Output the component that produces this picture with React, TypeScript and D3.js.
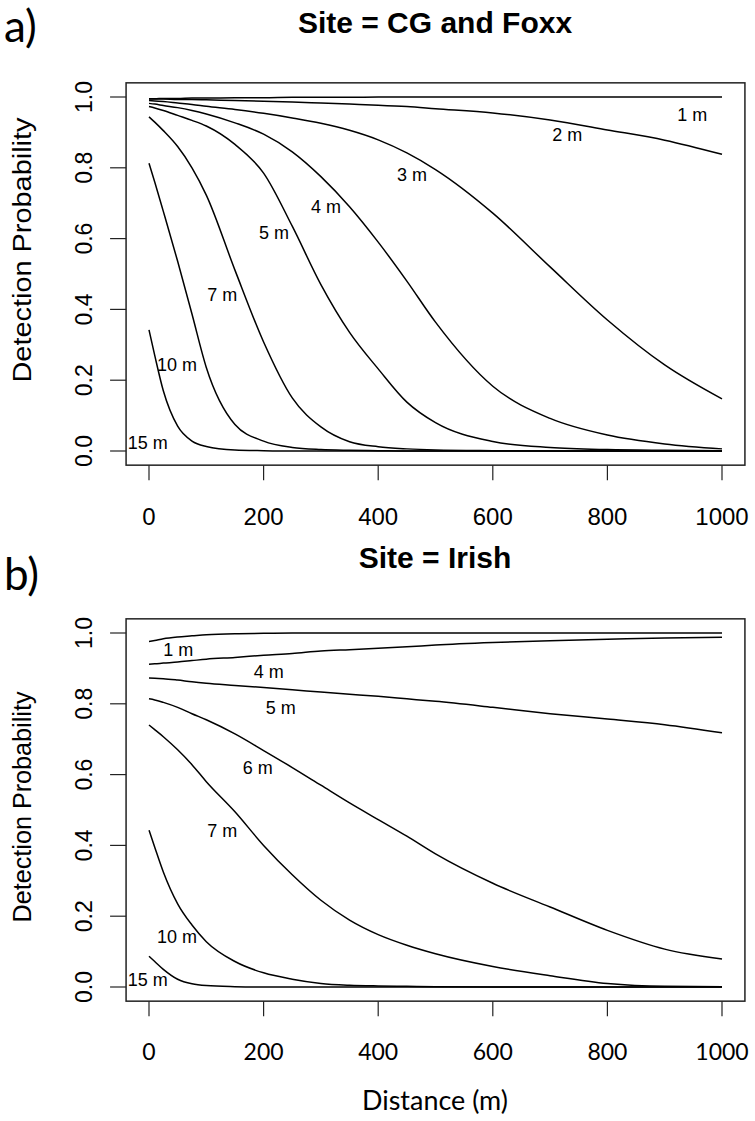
import React from 'react';
import * as d3 from 'd3';

// distance grid (m) shared by every curve
const DIST = [0, 10, 25, 50, 75, 100, 150, 200, 250, 300, 350, 400, 450, 500, 600, 700, 800, 900, 1000];

// panel a) Site = CG and Foxx
const A_1M = [0.995, 0.995, 0.996, 0.996, 0.997, 0.997, 0.998, 0.998, 0.999, 0.999, 0.999, 1, 1, 1, 1, 1, 1, 1, 1];
const A_2M = [0.994, 0.994, 0.994, 0.993, 0.993, 0.992, 0.99, 0.988, 0.986, 0.983, 0.98, 0.977, 0.973, 0.967, 0.955, 0.935, 0.907, 0.878, 0.838];
const A_3M = [0.99, 0.989, 0.987, 0.983, 0.979, 0.974, 0.965, 0.954, 0.941, 0.926, 0.906, 0.879, 0.842, 0.795, 0.672, 0.52, 0.37, 0.243, 0.147];
const A_4M = [0.982, 0.98, 0.976, 0.97, 0.962, 0.952, 0.927, 0.895, 0.845, 0.775, 0.69, 0.59, 0.48, 0.364, 0.183, 0.092, 0.045, 0.02, 0.006];
const A_5M = [0.973, 0.969, 0.962, 0.948, 0.934, 0.918, 0.866, 0.785, 0.635, 0.47, 0.335, 0.232, 0.138, 0.08, 0.027, 0.01, 0.004, 0.002, 0.001];
const A_7M = [0.944, 0.929, 0.905, 0.86, 0.8, 0.723, 0.511, 0.308, 0.15, 0.068, 0.026, 0.012, 0.006, 0.003, 0.001, 0, 0, 0, 0];
const A_10M = [0.813, 0.76, 0.677, 0.536, 0.387, 0.236, 0.075, 0.028, 0.01, 0.004, 0.002, 0.001, 0, 0, 0, 0, 0, 0, 0];
const A_15M = [0.342, 0.27, 0.17, 0.07, 0.028, 0.013, 0.003, 0.001, 0, 0, 0, 0, 0, 0, 0, 0, 0, 0, 0];
const A_SERIES = [A_1M, A_2M, A_3M, A_4M, A_5M, A_7M, A_10M, A_15M];
const A_LABELS = ['1 m', '2 m', '3 m', '4 m', '5 m', '7 m', '10 m', '15 m'];
const A_LABEL_D = [948, 730, 459, 309, 218, 128, 49, -2];
const A_LABEL_P = [0.949, 0.893, 0.78, 0.689, 0.616, 0.441, 0.243, 0.023];

// panel b) Site = Irish
const B_1M = [0.976, 0.979, 0.984, 0.989, 0.992, 0.995, 0.998, 0.999, 1, 1, 1, 1, 1, 1, 1, 1, 1, 1, 1];
const B_4M = [0.912, 0.913, 0.915, 0.918, 0.922, 0.926, 0.931, 0.937, 0.942, 0.949, 0.953, 0.957, 0.961, 0.966, 0.973, 0.978, 0.982, 0.986, 0.988];
const B_5M = [0.873, 0.872, 0.871, 0.867, 0.862, 0.858, 0.852, 0.846, 0.84, 0.833, 0.827, 0.821, 0.814, 0.807, 0.79, 0.772, 0.757, 0.741, 0.718];
const B_6M = [0.814, 0.811, 0.804, 0.79, 0.772, 0.755, 0.715, 0.668, 0.62, 0.57, 0.52, 0.473, 0.426, 0.376, 0.293, 0.226, 0.16, 0.107, 0.079];
const B_7M = [0.74, 0.727, 0.707, 0.67, 0.628, 0.58, 0.495, 0.4, 0.317, 0.245, 0.189, 0.148, 0.118, 0.094, 0.058, 0.032, 0.01, 0.002, 0.001];
const B_10M = [0.443, 0.395, 0.325, 0.235, 0.175, 0.128, 0.072, 0.04, 0.022, 0.01, 0.005, 0.003, 0.002, 0.001, 0, 0, 0, 0, 0];
const B_15M = [0.087, 0.072, 0.05, 0.022, 0.009, 0.004, 0.001, 0, 0, 0, 0, 0, 0, 0, 0, 0, 0, 0, 0];
const B_SERIES = [B_1M, B_4M, B_5M, B_6M, B_7M, B_10M, B_15M];
const B_LABELS = ['1 m', '4 m', '5 m', '6 m', '7 m', '10 m', '15 m'];
const B_LABEL_D = [51, 209, 230, 190, 128, 49, -2];
const B_LABEL_P = [0.952, 0.89, 0.788, 0.621, 0.443, 0.141, 0.02];

const X_TICKS = [0, 200, 400, 600, 800, 1000];
const Y_TICKS = [0, 0.2, 0.4, 0.6, 0.8, 1.0];

const ARIAL = 'Liberation Sans, Arial, sans-serif';
const CALI = 'Lato, Open Sans, sans-serif';

type PanelProps = {
  title: string;
  titleY: number;
  letter: string;
  letterY: number;
  yTop: number;
  yBottom: number;
  series: number[][];
  labels: string[];
  labelD: number[];
  labelP: number[];
  tickFont: string;
  tickSize: number;
  tickY: number;
  ylabMid: number;
  ylabLen: number;
};

function Panel(p: PanelProps) {
  const x = d3.scaleLinear().domain([0, 1000]).range([149, 722]);
  const y = d3.scaleLinear().domain([0, 1]).range([p.yBottom, p.yTop]);
  // R pads the plot region by 4% on each side
  const bx0 = x(-40), bx1 = x(1040);
  const by0 = y(1.04), by1 = y(-0.04);
  const line = d3.line<number>()
    .x((_, i) => x(DIST[i]))
    .y(v => y(v))
    .curve(d3.curveMonotoneX);
  const fmt = d3.format('.1f');

  return (
    <g>
      <text x={4} y={p.letterY} fontFamily={CALI} fontSize={44}>{p.letter}</text>
      <text x={435} y={p.titleY} textAnchor="middle" fontFamily={ARIAL} fontWeight="bold" fontSize={30}>{p.title}</text>
      <rect x={bx0} y={by0} width={bx1 - bx0} height={by1 - by0} fill="none" stroke="#222" strokeWidth={1.5} />
      {X_TICKS.map(t => (
        <g key={'x' + t}>
          <line x1={x(t)} x2={x(t)} y1={by1} y2={by1 + 15} stroke="#222" strokeWidth={1.2} />
          <text x={x(t)} y={p.tickY} textAnchor="middle" fontFamily={p.tickFont} fontSize={p.tickSize}>{t}</text>
        </g>
      ))}
      {Y_TICKS.map(t => (
        <g key={'y' + t}>
          <line x1={bx0 - 16} x2={bx0} y1={y(t)} y2={y(t)} stroke="#222" strokeWidth={1.2} />
          <text transform={`translate(92,${y(t)}) rotate(-90)`} textAnchor="middle" fontFamily={ARIAL} fontSize={23}>{fmt(t)}</text>
        </g>
      ))}
      <text transform={`translate(31,${p.ylabMid}) rotate(-90)`} textAnchor="middle" fontFamily={ARIAL} fontSize={26}
        textLength={p.ylabLen} lengthAdjust="spacingAndGlyphs">Detection Probability</text>
      {p.series.map((s, i) => (
        <path key={'s' + i} d={line(s) || ''} fill="none" stroke="#000" strokeWidth={1.5} />
      ))}
      {p.labels.map((l, i) => (
        <text key={'l' + i} x={x(p.labelD[i])} y={y(p.labelP[i]) + 6.4} textAnchor="middle" fontFamily={ARIAL} fontSize={18}>{l}</text>
      ))}
    </g>
  );
}

export default function App() {
  return (
    <svg width={755} height={1121} style={{ position: 'absolute', left: 0, top: 0, background: '#fff' }}>
      <rect width={755} height={1121} fill="#fff" />
      <Panel title="Site = CG and Foxx" titleY={33} letter="a)" letterY={42}
        yTop={97} yBottom={451} series={A_SERIES} labels={A_LABELS} labelD={A_LABEL_D} labelP={A_LABEL_P}
        tickFont={ARIAL} tickSize={24} tickY={525} ylabMid={250} ylabLen={265} />
      <Panel title="Site = Irish" titleY={568} letter="b)" letterY={590}
        yTop={633} yBottom={987} series={B_SERIES} labels={B_LABELS} labelD={B_LABEL_D} labelP={B_LABEL_P}
        tickFont={CALI} tickSize={23} tickY={1060} ylabMid={807} ylabLen={231} />
      <text x={435} y={1110} textAnchor="middle" fontFamily={CALI} fontSize={27} textLength={146} lengthAdjust="spacingAndGlyphs">Distance (m)</text>
    </svg>
  );
}
